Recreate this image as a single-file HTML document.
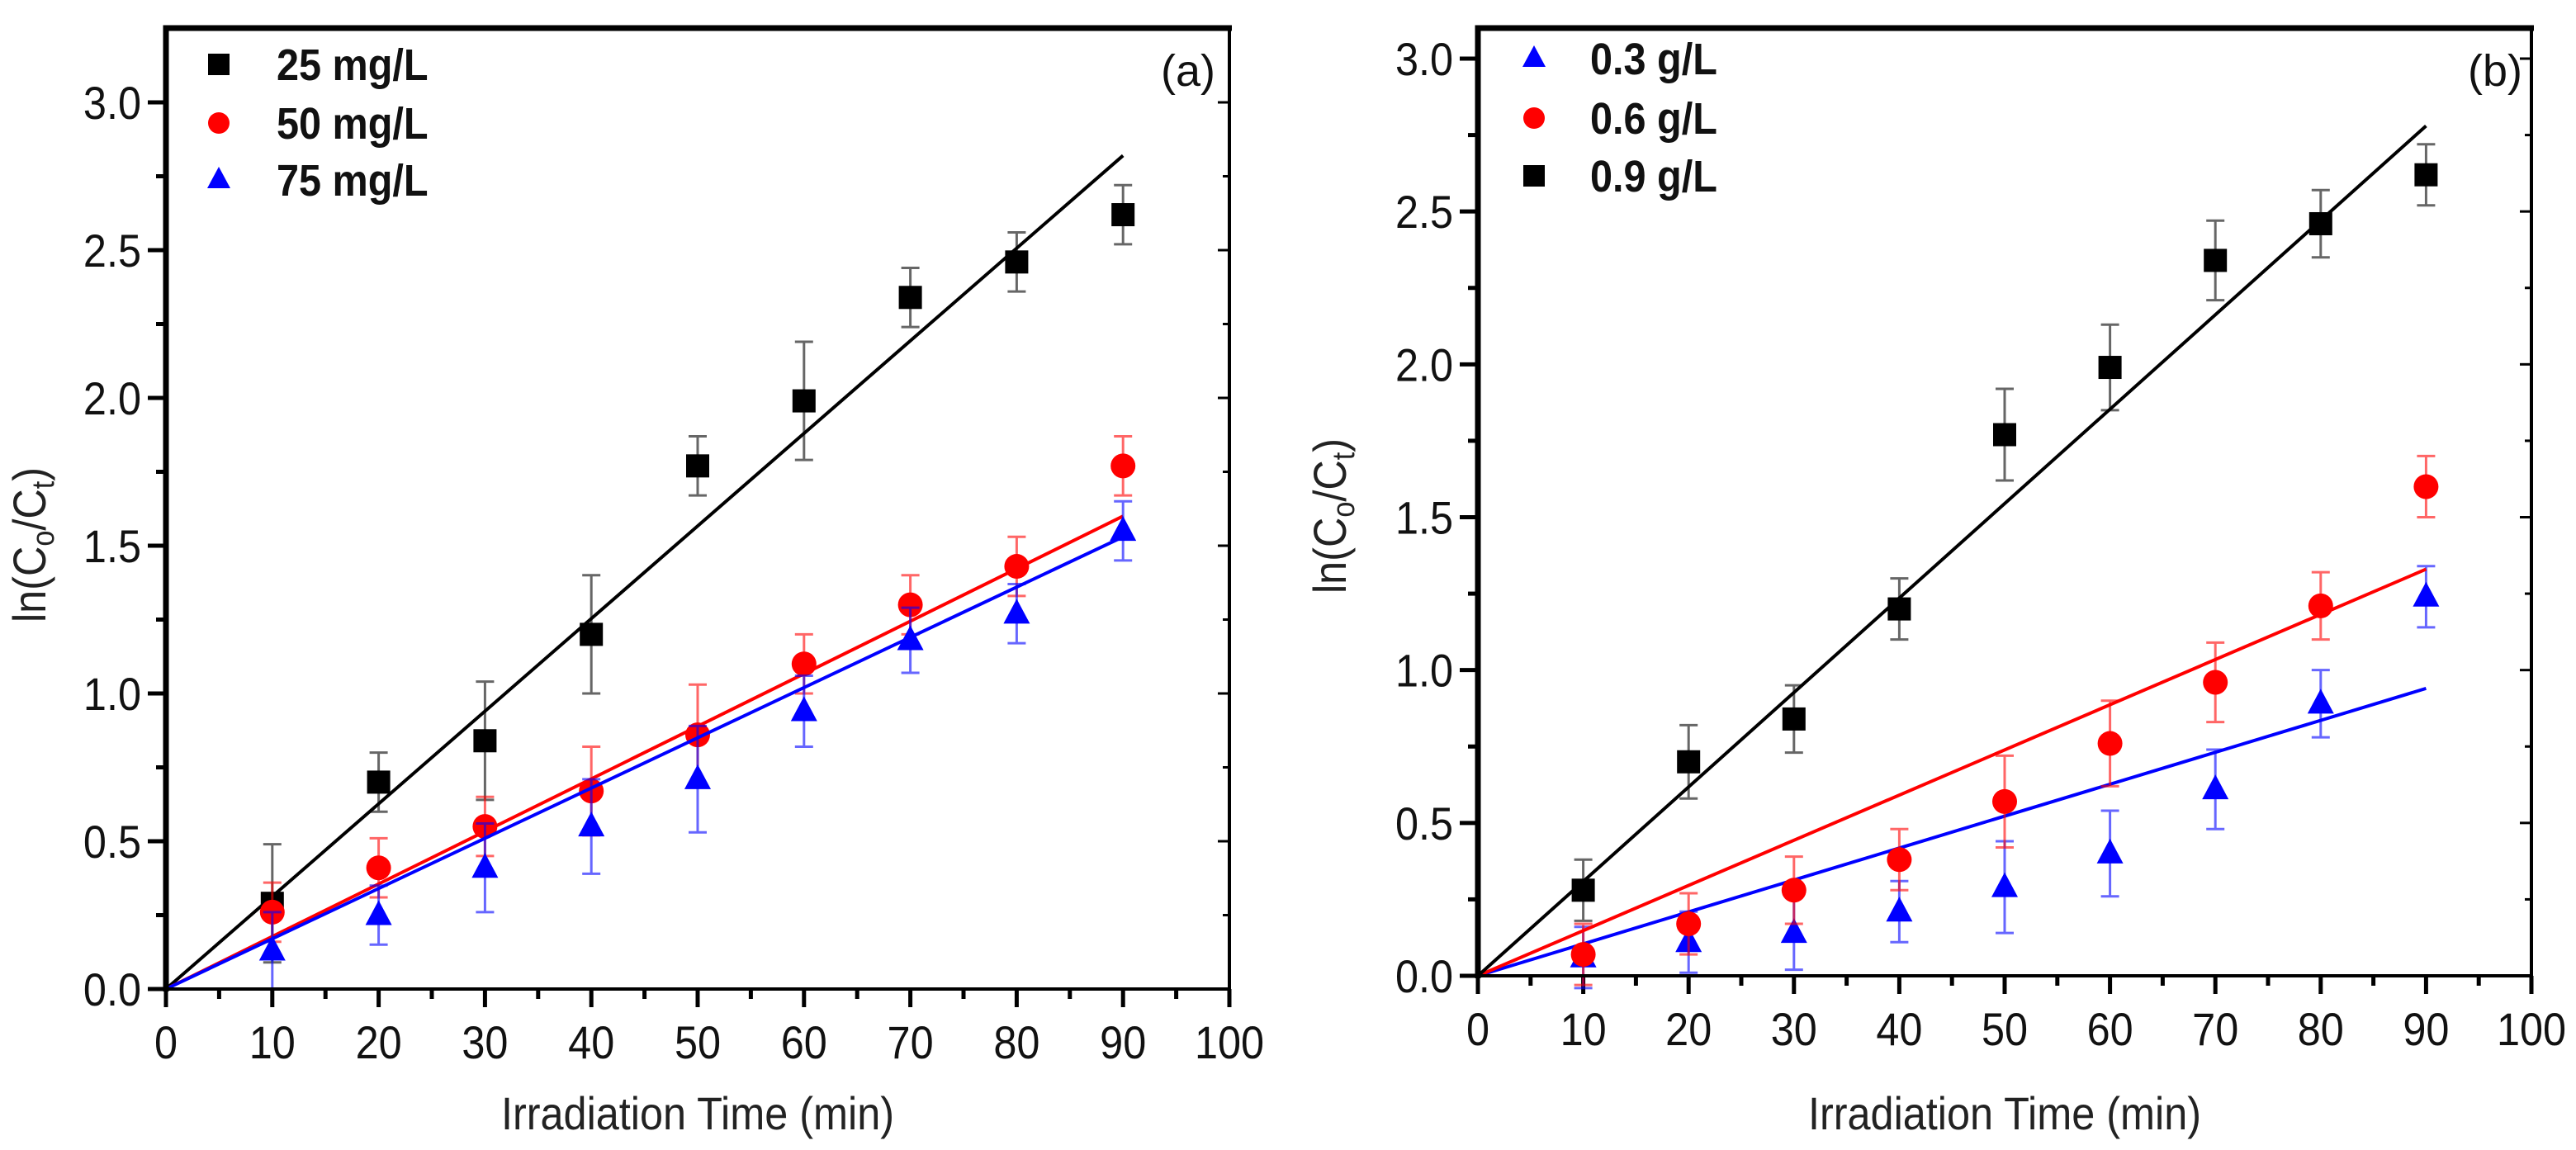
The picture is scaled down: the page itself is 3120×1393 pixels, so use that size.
<!DOCTYPE html>
<html><head><meta charset="utf-8"><style>
html,body{margin:0;padding:0;background:#fff;}
svg{display:block;font-family:"Liberation Sans",Arial,sans-serif;}
</style></head><body>
<svg id="chart" width="3120" height="1393" viewBox="0 0 3120 1393" xmlns="http://www.w3.org/2000/svg"></svg>
<script>
const xValues = [10,20,30,40,50,60,70,80,90];
const xTicks = [0,10,20,30,40,50,60,70,80,90,100];
const yTicks = [0,0.5,1.0,1.5,2.0,2.5,3.0];
const yTickLabels = ["0.0","0.5","1.0","1.5","2.0","2.5","3.0"];
// Panel (a)
const a25 = [0.29,0.70,0.84,1.20,1.77,1.99,2.34,2.46,2.62];
const a25err = [0.2,0.1,0.2,0.2,0.1,0.2,0.1,0.1,0.1];
const a50 = [0.26,0.41,0.55,0.67,0.86,1.10,1.30,1.43,1.77];
const a50err = [0.1,0.1,0.1,0.15,0.17,0.1,0.1,0.1,0.1];
const a75 = [0.13,0.25,0.41,0.55,0.71,0.94,1.18,1.27,1.55];
const a75err = [0.13,0.1,0.15,0.16,0.18,0.12,0.11,0.1,0.1];
const aFitEnd = [2.82,1.60,1.53];
// Panel (b)
const b03 = [0.06,0.11,0.14,0.21,0.29,0.40,0.61,0.89,1.24];
const b03err = [0.1,0.1,0.12,0.1,0.15,0.14,0.13,0.11,0.1];
const b06 = [0.07,0.17,0.28,0.38,0.57,0.76,0.96,1.21,1.60];
const b06err = [0.1,0.1,0.11,0.1,0.15,0.14,0.13,0.11,0.1];
const b09 = [0.28,0.70,0.84,1.20,1.77,1.99,2.34,2.46,2.62];
const b09err = [0.1,0.12,0.11,0.1,0.15,0.14,0.13,0.11,0.1];
const bFitEnd = [0.94,1.33,2.78];

const NS="http://www.w3.org/2000/svg";
const svg=document.getElementById('chart');
function el(tag,attrs,parent,text){const e=document.createElementNS(NS,tag);for(const k in attrs)e.setAttribute(k,attrs[k]);if(text!==undefined)e.textContent=text;(parent||svg).appendChild(e);return e;}

function panel(cfg){
  const g=el('g',{});
  
  
  const sx=v=>cfg.x0+(cfg.x100-cfg.x0)*v/100;
  const sy=v=>cfg.y0-(cfg.y0-cfg.y3)*v/3;
  const top=cfg.top, right=cfg.x100;
  for(let v=0;v<=100;v+=5){
    const major=v%10===0;
    const t=el('line',{x1:sx(v),x2:sx(v),y1:cfg.y0,y2:cfg.y0+(major?22:12),stroke:'#000','stroke-width':5},g);
    
    
  }
  for(let v=0;v<=3.2;v+=0.25){
    const major=Math.abs(v*2-Math.round(v*2))<1e-6;
    const t=el('line',{x1:cfg.x0-(major?22:12),x2:cfg.x0,y1:sy(v),y2:sy(v),stroke:'#000','stroke-width':5},g);
    
    
    const t2=el('line',{x1:right-(major?14:8),x2:right,y1:sy(v),y2:sy(v),stroke:'#000','stroke-width':3},g);
    
    
  }
  xTicks.forEach(v=>{
    const t=el('text',{x:sx(v),y:cfg.y0+84,'font-size':56,'text-anchor':'middle',fill:'#111',transform:`translate(${sx(v)*0.1},0) scale(0.9,1)`},g,String(v));
    
    
  });
  yTicks.forEach((v,i)=>{
    const t=el('text',{x:(cfg.x0-30)/0.9,y:sy(v)+20,'font-size':56,'text-anchor':'end',fill:'#111',transform:'scale(0.9,1)'},g,yTickLabels[i]);
    
    
  });
  const xt=el('text',{x:(cfg.x0+cfg.x100)/2/0.9,y:cfg.xTitleY,'font-size':56,'text-anchor':'middle',fill:'#222',transform:'scale(0.9,1)'},g,'Irradiation Time (min)');
  
  
  const yt=el('text',{transform:`translate(${cfg.yTitleX},${cfg.yTitleY}) rotate(-90) scale(0.9,1)`,'font-size':56,'text-anchor':'middle',fill:'#222'},g);
  
  
  el('tspan',{},yt,'ln(C');
  el('tspan',{'font-size':38,dy:10},yt,'o');
  el('tspan',{dy:-10},yt,'/C');
  el('tspan',{'font-size':38,dy:10},yt,'t');
  el('tspan',{dy:-10},yt,')');
  cfg.series.forEach((s,si)=>{
    const sg=el('g',{},g);
    
    
    const fl=el('line',{x1:sx(0),y1:sy(0),x2:sx(90),y2:sy(s.fitEnd),stroke:s.color,'stroke-width':4},sg);
    
    
    s.vals.forEach((v,i)=>{
      const x=sx(xValues[i]),y=sy(v),e=s.err[i];
      const eb=el('path',{d:`M${x},${sy(v-e)}V${sy(v+e)}M${x-11},${sy(v-e)}H${x+11}M${x-11},${sy(v+e)}H${x+11}`,stroke:s.color,'stroke-opacity':0.6,'stroke-width':3,fill:'none'},sg);
      
      
      let m;
      if(s.shape==='sq') m=el('rect',{x:x-14,y:y-14,width:28,height:28,fill:s.color},sg);
      else if(s.shape==='ci') m=el('circle',{cx:x,cy:y,r:15,fill:s.color},sg);
      else m=el('path',{d:`M${x},${y-18}L${x+16},${y+12}L${x-16},${y+12}Z`,fill:s.color},sg);
      
      
    });
    const ly=cfg.legendY[si];
    const lg=el('g',{},g);
    
    
    const mx=cfg.legendX;
    if(s.shape==='sq') el('rect',{x:mx-13,y:ly-13,width:26,height:26,fill:s.color},lg);
    else if(s.shape==='ci') el('circle',{cx:mx,cy:ly,r:13,fill:s.color},lg);
    else el('path',{d:`M${mx},${ly-16}L${mx+14},${ly+10}L${mx-14},${ly+10}Z`,fill:s.color},lg);
    el('text',{x:cfg.legendTextX/0.9,y:ly+19,'font-size':54,'font-weight':'bold',fill:'#111',transform:'scale(0.9,1)'},lg,s.label);
  });
  const fr=el('path',{d:`M${cfg.x0},${cfg.y0}H${right}V${top}`,stroke:'#000','stroke-width':4,fill:'none'},g);
  
  
  const fr2=el('path',{d:`M${cfg.x0},${cfg.y0+3}V${top}H${right+3}`,stroke:'#000','stroke-width':7,fill:'none'},g);
  
  
  const pl=el('text',{x:cfg.labelX,y:cfg.labelY,'font-size':54,'text-anchor':'end',fill:'#111'},g,cfg.panelLabel);
  
  
}

panel({name:'panel-a',x0:201,x100:1489,y0:1198,y3:124,top:34,xTitleY:1368,yTitleX:55,yTitleY:660,
  legendX:265,legendTextX:335,legendY:[78,149,218],labelX:1472,labelY:104,panelLabel:'(a)',
  series:[
    {key:'25mgL',label:'25 mg/L',color:'#000',shape:'sq',vals:a25,err:a25err,fitEnd:aFitEnd[0]},
    {key:'50mgL',label:'50 mg/L',color:'#f00',shape:'ci',vals:a50,err:a50err,fitEnd:aFitEnd[1]},
    {key:'75mgL',label:'75 mg/L',color:'#00f',shape:'tr',vals:a75,err:a75err,fitEnd:aFitEnd[2]}]});
panel({name:'panel-b',x0:1790,x100:3066,y0:1182,y3:71,top:34,xTitleY:1368,yTitleX:1630,yTitleY:625,
  legendX:1858,legendTextX:1926,legendY:[71,143,213],labelX:3055,labelY:104,panelLabel:'(b)',
  series:[
    {key:'0.3gL',label:'0.3 g/L',color:'#00f',shape:'tr',vals:b03,err:b03err,fitEnd:bFitEnd[0]},
    {key:'0.6gL',label:'0.6 g/L',color:'#f00',shape:'ci',vals:b06,err:b06err,fitEnd:bFitEnd[1]},
    {key:'0.9gL',label:'0.9 g/L',color:'#000',shape:'sq',vals:b09,err:b09err,fitEnd:bFitEnd[2]}]});
</script>
</body></html>
